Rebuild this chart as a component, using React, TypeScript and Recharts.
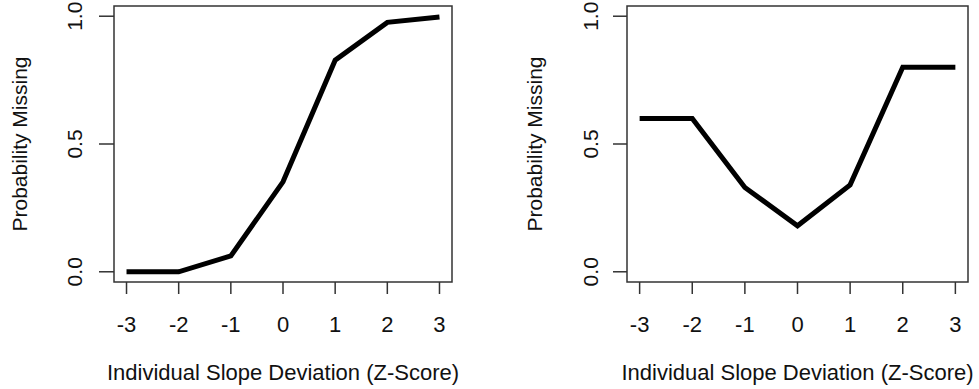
import { Label, Line, LineChart, ReferenceArea, XAxis, YAxis } from 'recharts'

const zScores = [-3, -2, -1, 0, 1, 2, 3]
const leftProb = [0, 0, 0.062, 0.352, 0.828, 0.976, 0.997]
const rightProb = [0.6, 0.6, 0.33, 0.18, 0.34, 0.8, 0.8]
const yTicks = [0, 0.5, 1]
const yTickLabels = ['0.0', '0.5', '1.0']
const xTitle = 'Individual Slope Deviation (Z-Score)'
const yTitle = 'Probability Missing'

const FONT = '"Liberation Sans", Arial, sans-serif'
const INK = '#111'
const FRAME = '#333'
const X_DOMAIN: [number, number] = [-3.24, 3.24]
const Y_DOMAIN: [number, number] = [-0.04, 1.04]

interface PanelProps {
  values: number[]
  left: number
  width: number
  axisWidth: number
  marginRight: number
  yTickSize: number
  yTickLabelGap: number
  yTitleX: number
}

function Panel({ values, left, width, axisWidth, marginRight, yTickSize, yTickLabelGap, yTitleX }: PanelProps) {
  const data = zScores.map((x, i) => ({ x, p: values[i] }))

  return (
    <div style={{ position: 'absolute', left, top: 0 }}>
      <LineChart width={width} height={389} data={data} margin={{ top: 6, right: marginRight, left: 0, bottom: 0 }}>
        <XAxis
          type="number"
          dataKey="x"
          domain={X_DOMAIN}
          ticks={zScores}
          interval={0}
          allowDataOverflow
          axisLine={false}
          tickSize={12}
          tickMargin={0}
          tickLine={{ stroke: FRAME, strokeWidth: 1.5 }}
          height={107}
          tick={(p: any) => (
            <text x={p.x} y={p.y + 38} textAnchor="middle" fontSize={22} fontFamily={FONT} fill={INK}>
              {p.payload.value}
            </text>
          )}
        >
          <Label
            content={(p: any) => (
              <text
                x={p.viewBox.x + p.viewBox.width / 2}
                y={p.viewBox.y + 98}
                textAnchor="middle"
                fontSize={22}
                fontFamily={FONT}
                fill={INK}
              >
                {xTitle}
              </text>
            )}
          />
        </XAxis>
        <YAxis
          type="number"
          domain={Y_DOMAIN}
          ticks={yTicks}
          interval={0}
          allowDataOverflow
          axisLine={false}
          width={axisWidth}
          tickSize={yTickSize}
          tickMargin={0}
          tickLine={{ stroke: FRAME, strokeWidth: 1.5 }}
          tick={(p: any) => {
            const bx = p.x - yTickLabelGap
            const label = yTickLabels[yTicks.indexOf(p.payload.value)]
            return (
              <text
                x={bx}
                y={p.y}
                transform={`rotate(-90, ${bx}, ${p.y})`}
                textAnchor="middle"
                fontSize={21}
                fontFamily={FONT}
                fill={INK}
              >
                {label}
              </text>
            )
          }}
        >
          <Label
            content={(p: any) => {
              const tx = p.viewBox.x + yTitleX
              const ty = p.viewBox.y + p.viewBox.height / 2
              return (
                <text
                  x={tx}
                  y={ty}
                  transform={`rotate(-90, ${tx}, ${ty})`}
                  textAnchor="middle"
                  fontSize={21}
                  fontFamily={FONT}
                  fill={INK}
                >
                  {yTitle}
                </text>
              )
            }}
          />
        </YAxis>
        <ReferenceArea
          x1={X_DOMAIN[0]}
          x2={X_DOMAIN[1]}
          y1={Y_DOMAIN[0]}
          y2={Y_DOMAIN[1]}
          fill="none"
          stroke={FRAME}
          strokeWidth={1.5}
          ifOverflow="visible"
        />
        <Line
          type="linear"
          dataKey="p"
          stroke="#000"
          strokeWidth={5}
          dot={false}
          activeDot={false}
          isAnimationActive={false}
        />
      </LineChart>
    </div>
  )
}

export default function App() {
  return (
    <div style={{ position: 'absolute', left: 0, top: 0, width: 979, height: 389, background: '#fff' }}>
      <Panel
        values={leftProb}
        left={0}
        width={490}
        axisWidth={114}
        marginRight={38}
        yTickSize={15}
        yTickLabelGap={17}
        yTitleX={27}
      />
      <Panel
        values={rightProb}
        left={490}
        width={489}
        axisWidth={137}
        marginRight={11}
        yTickSize={14}
        yTickLabelGap={15}
        yTitleX={52}
      />
    </div>
  )
}
